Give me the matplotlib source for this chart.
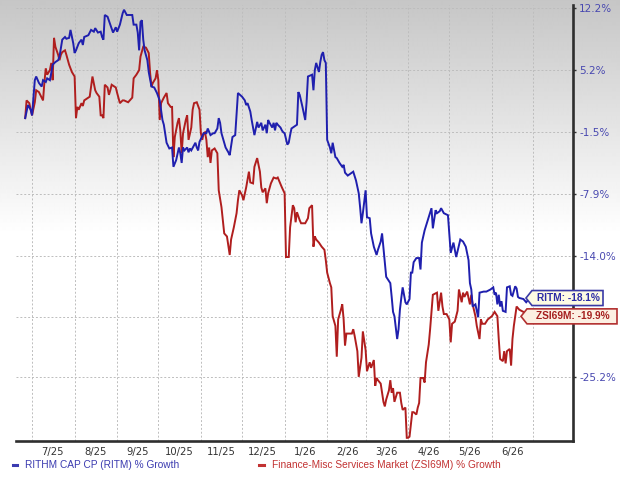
import numpy as np
import matplotlib
matplotlib.use("Agg")
import matplotlib.pyplot as plt
import matplotlib.dates as mdates
from matplotlib.patches import Polygon
from matplotlib.transforms import IdentityTransform
from matplotlib.lines import Line2D

# ---------------- data (days since 2025-07-01, % growth) ----------------
ritm_days = [-5, -3, -1, 0, 2, 3, 5, 7, 8, 10, 11, 13, 14, 15, 17, 19, 20, 22, 24, 25, 27, 28, 30, 31, 32,
             34, 36, 37, 38, 41, 43, 45, 46, 48, 50, 51, 52, 53, 55, 57, 59, 61, 62, 64, 66, 67, 69, 73, 74,
             76, 77, 78, 79, 80, 81, 82, 84, 85, 87, 89, 91, 93, 95, 96, 98, 100, 102, 103, 105, 107, 108,
             109, 110, 111, 113, 114, 115, 116, 119, 120, 121, 122, 125, 127, 128, 130, 132, 133, 135, 136,
             137, 138, 140, 141, 143, 144, 146, 148, 150, 153, 155, 156, 157, 159, 160, 162, 164, 165, 167,
             168, 170, 171, 172, 173, 175, 176, 177, 178, 179, 181, 182, 183, 184, 186, 187, 188, 189, 190,
             193, 194, 195, 197, 199, 200, 201, 204, 205, 206, 207, 209, 210, 211, 212, 213, 214, 215, 217,
             218, 219, 221, 222, 224, 226, 227, 228, 230, 233, 234, 236, 238, 239, 240, 241, 243, 244, 246,
             247, 249, 251, 252, 254, 255, 256, 257, 258, 261, 262, 263, 264, 266, 267, 268, 269, 270, 272,
             273, 275, 276, 277, 278, 280, 282, 283, 284, 286, 289, 291, 292, 294, 295, 297, 298, 300, 303,
             305, 307, 309, 312, 314, 316, 318, 319, 320, 321, 323, 324, 325, 326, 329, 331, 334, 336, 337,
             338, 339, 340, 341, 342, 343, 345, 346, 348, 349, 350, 352, 353, 354, 355, 358, 360, 362]
ritm_pct = [0.0, 1.4, 0.9, 0.3, 4.1, 4.5, 3.8, 3.4, 4.1, 3.9, 4.3, 4.1, 4.9, 5.8, 6.1, 6.3, 6.7, 8.6, 8.9,
            8.7, 8.8, 9.7, 8.2, 7.1, 7.4, 8.2, 8.6, 8.0, 8.9, 9.1, 9.7, 9.5, 9.9, 9.4, 9.5, 8.9, 8.6, 11.4,
            11.2, 10.3, 9.4, 10.0, 9.5, 10.3, 11.6, 12.0, 11.4, 11.4, 10.3, 10.3, 9.4, 7.4, 10.6, 10.8, 8.6,
            7.4, 6.3, 5.0, 3.4, 3.3, 2.7, 1.9, -0.2, -0.7, -2.6, -3.2, -3.1, -5.1, -4.4, -3.1, -3.7, -4.7,
            -3.1, -3.4, -3.1, -3.6, -3.2, -3.4, -2.6, -3.1, -3.4, -2.5, -1.6, -1.6, -1.1, -1.8, -1.6, -1.6,
            -1.1, 0.0, -0.5, -1.6, -2.6, -3.1, -3.6, -3.9, -2.0, -1.8, 2.7, 2.3, 1.9, 1.4, 1.6, 0.7, -0.2,
            -1.8, -0.4, -1.0, -0.5, -1.3, -0.7, -1.6, -0.2, -0.5, -1.0, -0.5, -1.3, -0.5, -0.7, -1.0, -1.3,
            -1.5, -1.6, -2.8, -2.6, -1.8, -1.1, -1.0, -0.7, 2.8, 2.5, 1.2, -0.2, 1.7, 4.5, 4.7, 3.0, 5.2,
            6.0, 5.0, 6.1, 6.9, 7.2, 6.3, 6.0, -2.3, -3.1, -3.7, -2.6, -4.1, -4.2, -4.7, -5.1, -4.9, -5.7,
            -6.0, -5.7, -5.6, -6.5, -7.8, -9.2, -10.8, -9.8, -7.5, -10.2, -10.3, -11.8, -13.1, -13.9, -13.4,
            -12.6, -11.8, -13.2, -14.6, -16.0, -16.6, -17.9, -19.3, -19.7, -21.8, -20.9, -19.1, -18.0, -17.0,
            -18.4, -18.6, -18.1, -15.6, -15.6, -14.6, -14.2, -14.2, -15.3, -12.7, -11.5, -10.2, -9.3, -11.3,
            -9.5, -9.8, -9.6, -9.3, -9.8, -10.0, -13.7, -12.7, -14.1, -12.4, -12.6, -13.1, -14.4, -16.6,
            -17.2, -18.8, -18.6, -19.2, -19.8, -17.5, -17.4, -17.4, -17.2, -17.0, -17.7, -17.5, -18.6, -17.7,
            -18.8, -18.3, -19.2, -19.3, -17.0, -16.9, -17.7, -17.8, -16.9, -17.1, -17.9, -18.0, -18.1, -18.4,
            -18.1]

zsi_days = [-5, -4, -2, -1, 0, 2, 3, 5, 7, 8, 9, 10, 11, 13, 14, 15, 16, 17, 19, 20, 21, 22, 24, 25, 27,
            29, 31, 32, 33, 34, 36, 37, 38, 41, 42, 43, 44, 46, 47, 49, 50, 51, 52, 53, 55, 56, 57, 58, 60,
            61, 62, 64, 66, 67, 70, 73, 74, 76, 78, 79, 81, 83, 85, 86, 87, 88, 90, 91, 92, 93, 94, 96, 98,
            99, 101, 102, 103, 104, 106, 107, 108, 109, 110, 112, 113, 114, 116, 117, 118, 120, 122, 123,
            124, 125, 126, 127, 128, 129, 130, 131, 133, 135, 136, 138, 140, 142, 144, 145, 147, 149, 150,
            151, 153, 154, 156, 158, 159, 161, 162, 164, 166, 167, 168, 170, 171, 172, 174, 176, 178, 179,
            182, 184, 185, 187, 188, 190, 191, 192, 193, 195, 196, 199, 201, 202, 204, 205, 206, 207, 209,
            211, 213, 214, 215, 217, 218, 219, 221, 222, 223, 225, 226, 227, 228, 229, 231, 233, 234, 235,
            237, 238, 240, 241, 243, 244, 245, 246, 247, 249, 250, 251, 252, 254, 255, 256, 257, 258, 260,
            261, 262, 263, 264, 266, 268, 269, 270, 272, 273, 274, 275, 277, 278, 280, 281, 282, 283, 285,
            286, 287, 289, 290, 291, 292, 295, 296, 298, 299, 300, 302, 304, 305, 306, 308, 310, 311, 313,
            314, 315, 317, 319, 320, 321, 323, 324, 326, 327, 328, 330, 332, 335, 337, 339, 340, 341, 343,
            344, 345, 346, 348, 349, 350, 351, 353, 355, 358, 360, 362]
zsi_pct = [0.0, 1.9, 1.6, 0.9, 0.3, 1.7, 3.0, 2.8, 2.2, 1.9, 3.9, 5.4, 4.7, 5.2, 6.0, 4.1, 8.8, 7.8, 6.9,
           6.3, 6.9, 7.2, 7.4, 6.9, 5.8, 5.0, 4.5, 0.0, 1.2, 0.9, 1.6, 1.3, 1.9, 2.2, 2.3, 3.4, 4.5, 3.0, 2.7,
           2.3, 0.3, 0.3, 0.0, 3.6, 3.3, 2.5, 3.0, 3.6, 3.4, 3.3, 2.7, 1.6, 1.9, 1.9, 1.7, 2.2, 4.3, 4.7,
           5.2, 6.7, 7.8, 7.7, 7.1, 4.9, 3.4, 3.8, 4.3, 5.2, 4.1, -0.2, 1.6, 2.2, 2.7, 1.6, 1.2, 1.2, -4.1,
           -2.0, -0.5, 0.0, -1.3, -3.7, -1.6, -0.2, 0.3, -2.3, -1.0, 0.9, 1.6, 1.7, 0.9, -1.6, -2.3, -1.6,
           -1.5, -2.3, -4.1, -3.1, -4.7, -3.4, -3.2, -3.7, -7.5, -9.2, -11.8, -12.1, -13.9, -12.4, -11.2,
           -9.8, -8.5, -7.5, -8.0, -8.5, -7.2, -5.6, -6.7, -6.8, -5.1, -4.2, -5.6, -7.2, -7.7, -7.3, -8.8,
           -7.8, -6.8, -6.2, -6.3, -6.2, -7.2, -7.8, -14.1, -14.1, -11.2, -9.0, -9.3, -10.7, -9.7, -10.5,
           -10.8, -10.8, -10.3, -9.3, -9.0, -13.1, -12.1, -12.4, -12.7, -13.1, -13.4, -14.4, -15.6, -16.6,
           -17.0, -19.7, -20.6, -23.4, -20.0, -19.1, -18.6, -20.0, -22.4, -21.3, -21.3, -21.3, -20.9, -21.5,
           -22.9, -25.2, -23.5, -21.1, -22.8, -24.7, -24.3, -23.9, -24.4, -23.7, -26.0, -25.3, -25.5, -25.8,
           -26.6, -27.4, -27.8, -27.2, -26.4, -25.5, -26.6, -26.2, -27.4, -26.6, -26.6, -27.5, -28.1, -27.9,
           -30.5, -30.5, -30.4, -28.3, -28.3, -28.5, -27.9, -27.5, -25.3, -25.3, -25.7, -23.9, -22.3, -20.9,
           -19.3, -17.7, -17.5, -19.2, -17.5, -18.8, -19.5, -19.5, -20.0, -22.1, -20.4, -20.2, -19.2, -17.2,
           -18.4, -17.5, -17.9, -17.4, -18.6, -17.7, -18.6, -19.7, -20.6, -21.8, -20.0, -20.4, -20.4, -20.0,
           -19.7, -19.3, -19.7, -21.8, -23.6, -23.8, -22.9, -24.0, -22.9, -22.7, -24.2, -21.8, -20.6, -18.8,
           -19.1, -19.3, -19.7, -19.9]

month_labels = ['7/25', '8/25', '9/25', '10/25', '11/25', '12/25',
                '1/26', '2/26', '3/26', '4/26', '5/26', '6/26']
y_ticks = [12.2, 5.2, -1.5, -7.9, -14.0, -19.8, -25.2]
y_hidden = [-19.8]          # label hidden behind the end-value tags
ritm_name = 'RITHM CAP CP (RITM) % Growth'
zsi_name = 'Finance-Misc Services Market (ZSI69M) % Growth'
ritm_tag = 'RITM'
zsi_tag = 'ZSI69M'

# ---------------- styling ----------------
W, H = 620, 478
BLUE = '#1f1fae'
RED = '#b01e1e'
plt.rcParams['font.family'] = ['DejaVu Sans']

fig = plt.figure(figsize=(W / 100, H / 100), dpi=100)
fig.patch.set_facecolor('white')

# gradient background (gray at top fading to white)
bg = fig.add_axes([0, 0, 1, 1], zorder=-10)
rows = np.arange(H)
vals = 198 + 57 * np.clip(rows / 235.0, 0, 1)
grad = np.repeat(vals[:, None], 2, axis=1)
bg.imshow(grad, cmap='gray', vmin=0, vmax=255, aspect='auto', extent=[0, 1, 0, 1], interpolation='bilinear')
bg.axis('off')

ax = fig.add_axes([16 / W, (H - 441) / H, (573 - 16) / W, (441 - 5) / H], zorder=1)
ax.set_facecolor('none')

base = np.datetime64('2025-07-01')
base_num = mdates.date2num(base)
rx = base_num + np.array(ritm_days, dtype=float)
zx = base_num + np.array(zsi_days, dtype=float)

fwd = lambda g: np.log(np.asarray(g, dtype=float) + 151.0)
inv = lambda v: np.exp(np.asarray(v, dtype=float)) - 151.0
ax.set_yscale('function', functions=(fwd, inv))

ax.plot(zx, zsi_pct, color=RED, lw=1.4, solid_joinstyle='miter', zorder=3)
ax.plot(rx, ritm_pct, color=BLUE, lw=1.4, solid_joinstyle='miter', zorder=4)

ax.set_xlim(base_num - 11.7, base_num + 394.1)
ax.set_ylim(-30.77, 12.55)

# x axis: month gridlines, mid-month labels
ax.xaxis.set_major_locator(mdates.MonthLocator(bymonthday=1))
ax.xaxis.set_major_formatter(plt.NullFormatter())
label_pos = []
for lab in month_labels:
    m, yy = lab.split('/')
    label_pos.append(mdates.date2num(np.datetime64(f'20{yy}-{int(m):02d}-16')))
ax.xaxis.set_minor_locator(plt.FixedLocator(label_pos))
ax.xaxis.set_minor_formatter(plt.FixedFormatter(month_labels))
ax.tick_params(axis='x', which='both', length=0)
ax.tick_params(axis='x', which='minor', labelsize=7.2, labelcolor='#333333', pad=4)

# y axis on the right
ax.yaxis.tick_right()
ax.yaxis.set_major_locator(plt.FixedLocator(y_ticks))
ax.yaxis.set_major_formatter(plt.FixedFormatter(
    ['' if v in y_hidden else f'{v:.1f}%' for v in y_ticks]))
ax.yaxis.set_minor_locator(plt.NullLocator())
ax.tick_params(axis='y', which='major', direction='out', length=2.5, width=1.0, color='#333333',
               labelsize=7.5, labelcolor='#4848b0', pad=2)

ax.grid(True, which='major', axis='both', linestyle=(0, (2, 2)), color='#bdbdbd', linewidth=0.7, zorder=0)
ax.set_axisbelow(True)

for s in ['top', 'left']:
    ax.spines[s].set_visible(False)
for s in ['right', 'bottom']:
    ax.spines[s].set_linewidth(1.9)
    ax.spines[s].set_color('#2e2e2e')

# ---------------- end-value callouts ----------------
def callout(day, val, tip_x, left, right, dy, edge, face, tcolor, text):
    _, yd = ax.transData.transform((day, val))
    yc = yd + dy
    h = 15
    pts = [(tip_x, yc), (left, yc + h / 2), (right, yc + h / 2), (right, yc - h / 2), (left, yc - h / 2)]
    poly = Polygon(pts, closed=True, facecolor=face, edgecolor=edge, lw=1.2,
                   transform=IdentityTransform(), zorder=20)
    fig.add_artist(poly)
    fig.text((left + right) / 2 + 1, yc, text, transform=IdentityTransform(), ha='center', va='center',
             fontsize=7.3, fontweight='bold', color=tcolor, family=['Liberation Sans', 'DejaVu Sans'],
             zorder=21)

callout(rx[-1], ritm_pct[-1], 526, 532, 603, 1, '#3a3aa6', '#fdfbe4', '#2b2ba6',
        f'{ritm_tag}: {ritm_pct[-1]:.1f}%')
callout(zx[-1], zsi_pct[-1], 521, 527, 617, 2, '#b23030', '#fcefe2', '#a51f1f',
        f'{zsi_tag}: {zsi_pct[-1]:.1f}%')

# ---------------- legend (bottom) ----------------
ly = H - 465
for x0, col, name in [(12.5, '#3b3bb0', ritm_name), (259, '#c23333', zsi_name)]:
    fig.add_artist(Line2D([x0, x0 + 4.5], [ly, ly], color=col, lw=2.2, transform=IdentityTransform()))
    fig.text(x0 + 12.5, ly, name, transform=IdentityTransform(), ha='left', va='center',
             fontsize=7.3, color=col, family=['Liberation Sans', 'DejaVu Sans'])

fig.savefig('out.png', dpi=100)
